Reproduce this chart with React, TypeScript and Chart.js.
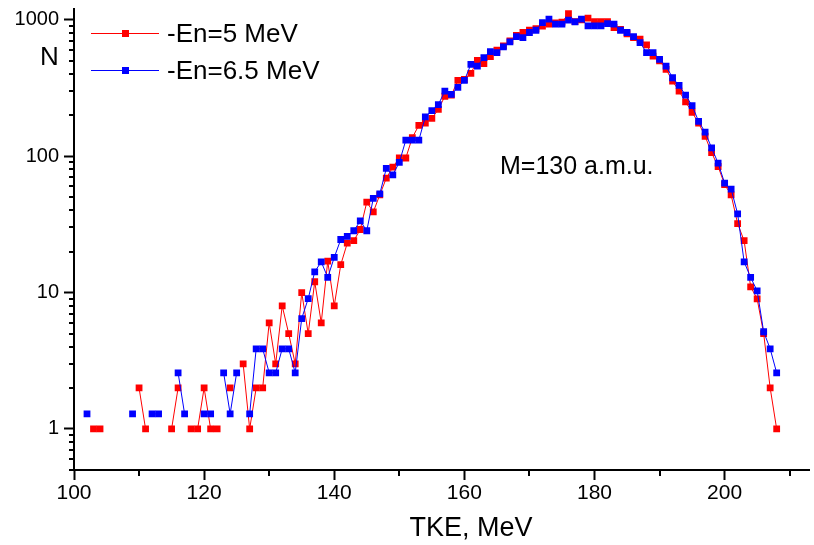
import React, { useEffect, useRef } from "react";
import { Chart, registerables } from "chart.js";

Chart.register(...registerables);

// TKE values (MeV)
const tke = [
  102, 103, 104, 105, 106, 107, 108, 109, 110, 111,
  112, 113, 114, 115, 116, 117, 118, 119, 120, 121,
  122, 123, 124, 125, 126, 127, 128, 129, 130, 131,
  132, 133, 134, 135, 136, 137, 138, 139, 140, 141,
  142, 143, 144, 145, 146, 147, 148, 149, 150, 151,
  152, 153, 154, 155, 156, 157, 158, 159, 160, 161,
  162, 163, 164, 165, 166, 167, 168, 169, 170, 171,
  172, 173, 174, 175, 176, 177, 178, 179, 180, 181,
  182, 183, 184, 185, 186, 187, 188, 189, 190, 191,
  192, 193, 194, 195, 196, 197, 198, 199, 200, 201,
  202, 203, 204, 205, 206, 207, 208,
];

// En = 5 MeV counts (null = no count)
const countsEn5 = [
  null, 1, 1, null, null, null, null, null, 2, 1,
  null, null, null, 1, 2, null, 1, 1, 2, 1,
  1, null, 2, null, 3, 1, 2, 2, 6, 3,
  8, 5, 3, 10, 5, 12, 6, 17, 8, 16,
  23, 24, 29, 46, 39, 52, 69, 83, 97, 97,
  137, 168, 175, 189, 220, 275, 280, 359, 365, 405,
  504, 477, 537, 600, 645, 700, 770, 807, 838, 860,
  900, 929, 950, 960, 1110, 970, 1000, 1028, 971, 971,
  970, 878, 850, 790, 740, 720, 654, 542, 500, 433,
  355, 300, 250, 210, 175, 140, 106, 84, 62, 52,
  32, 24, 11, 9, 5, 2, 1,
];

// En = 6.5 MeV counts (normalized, null = no count)
const countsEn65 = [
  1.29, null, null, null, null, null, null, 1.29, null, null,
  1.29, 1.29, null, null, 2.58, 1.29, null, null, 1.29, 1.29,
  null, 2.58, 1.29, 2.58, null, 1.29, 3.87, 3.87, 2.58, 2.58,
  3.87, 3.87, 2.58, 6.45, 9.03, 14.2, 16.8, 12.9, 18.1, 24.5,
  25.8, 28.4, 33.5, 28.4, 49, 52.9, 81.3, 73, 90, 131,
  131, 131, 194, 216, 239, 300, 284, 320, 359, 471,
  458, 528, 585, 575, 632, 688, 754, 741, 807, 838,
  955, 1010, 929, 929, 993, 966, 1010, 902, 902, 902,
  939, 929, 838, 807, 754, 681, 575, 575, 513, 458,
  376, 330, 280, 235, 180, 150, 115, 89, 63.5, 57.4,
  37.8, 16.8, 12.9, 10.3, 5.16, 3.87, 2.58,
];

const seriesLabels = ["-En=5 MeV", "-En=6.5 MeV"];
const seriesColors = ["#ff0000", "#0000ff"];

const xTickLabels = [100, 120, 140, 160, 180, 200];
const xMinorTicks = [110, 130, 150, 170, 190, 210];
const yTickLabels = [1, 10, 100, 1000];

const xTitle = "TKE, MeV";
const yTitle = "N";
const noteText = "M=130 a.m.u.";

const FONT = "'Liberation Sans', Arial, sans-serif";

const toPoints = (vals: (number | null)[]) =>
  tke.map((x, i) => ({ x, y: vals[i] }));

const decorPlugin = {
  id: "decor",
  afterDraw(chart: any) {
    const ctx = chart.ctx as CanvasRenderingContext2D;
    const xs = chart.scales.x;
    const ys = chart.scales.y;
    const area = chart.chartArea;
    ctx.save();
    ctx.strokeStyle = "#000000";
    ctx.lineWidth = 2;
    // minor x ticks
    xMinorTicks.forEach((v) => {
      const p = Math.round(xs.getPixelForValue(v));
      ctx.beginPath();
      ctx.moveTo(p, area.bottom);
      ctx.lineTo(p, area.bottom + 6);
      ctx.stroke();
    });
    // minor y ticks
    const minors: number[] = [];
    [0.1, 1, 10, 100, 1000].forEach((d) => {
      for (let k = 2; k <= 9; k++) {
        const v = k * d;
        if (v >= ys.min && v <= ys.max) minors.push(v);
      }
    });
    minors.forEach((v) => {
      const p = Math.round(ys.getPixelForValue(v));
      ctx.beginPath();
      ctx.moveTo(area.left, p);
      ctx.lineTo(area.left - 5, p);
      ctx.stroke();
    });

    // texts
    ctx.fillStyle = "#000";
    ctx.textAlign = "left";
    ctx.textBaseline = "alphabetic";
    ctx.font = `26px ${FONT}`;
    ctx.fillText(yTitle, 40, 65);
    ctx.font = `25px ${FONT}`;
    ctx.fillText(noteText, 500, 174);
    ctx.textAlign = "center";
    ctx.font = `27px ${FONT}`;
    ctx.fillText(xTitle, 471, 536);

    // legend
    const rows = [33, 70];
    seriesLabels.forEach((lab, i) => {
      const y = rows[i];
      ctx.strokeStyle = seriesColors[i];
      ctx.lineWidth = 1;
      ctx.beginPath();
      ctx.moveTo(91, y + 0.5);
      ctx.lineTo(159, y + 0.5);
      ctx.stroke();
      ctx.fillStyle = seriesColors[i];
      ctx.fillRect(122, y - 3, 7, 7);
      ctx.fillStyle = "#000";
      ctx.textAlign = "left";
      ctx.font = `26px ${FONT}`;
      ctx.fillText(lab, 167, y + 9);
    });
    ctx.restore();
  },
};

const gridOpts = {
  display: true,
  drawOnChartArea: false,
  drawTicks: true,
  tickLength: 10,
  tickWidth: 2,
  tickColor: "#000",
  color: "#000",
};

export default function App() {
  const ref = useRef<HTMLCanvasElement>(null);
  useEffect(() => {
    const sets = [countsEn5, countsEn65];
    const chart = new Chart(ref.current as HTMLCanvasElement, {
      type: "line",
      data: {
        datasets: sets.map((vals, i) => ({
          label: seriesLabels[i],
          data: toPoints(vals),
          borderColor: seriesColors[i],
          backgroundColor: seriesColors[i],
          pointBackgroundColor: seriesColors[i],
          pointBorderColor: seriesColors[i],
          borderWidth: 1,
          pointStyle: "rect",
          pointRadius: 4.8,
          pointBorderWidth: 0,
          spanGaps: false,
          tension: 0,
          order: i === 0 ? 1 : 0,
        })),
      } as any,
      options: {
        responsive: false,
        animation: false,
        devicePixelRatio: 1,
        layout: { padding: { top: 9, right: 1, left: 0, bottom: 0 } },
        plugins: { legend: { display: false }, tooltip: { enabled: false } },
        scales: {
          x: {
            type: "linear",
            min: 100,
            max: 213,
            afterFit: (s: any) => {
              s.height = 75;
              s.paddingLeft = 0;
              s.paddingRight = 0;
            },
            afterBuildTicks: (s: any) => {
              s.ticks = xTickLabels.map((v) => ({ value: v }));
            },
            ticks: {
              color: "#000",
              font: { size: 21, family: FONT },
              padding: 1,
              maxRotation: 0,
              autoSkip: false,
              callback: (v: any) => String(v),
            },
            grid: gridOpts,
            border: { display: true, color: "#000", width: 2 },
          },
          y: {
            type: "logarithmic",
            min: 0.5,
            max: 1200,
            afterFit: (s: any) => {
              s.width = 74;
              s.paddingTop = 0;
              s.paddingBottom = 0;
            },
            afterBuildTicks: (s: any) => {
              s.ticks = yTickLabels.map((v) => ({ value: v }));
            },
            ticks: {
              color: "#000",
              font: { size: 20, family: FONT },
              padding: 5,
              autoSkip: false,
              callback: (v: any) => String(v),
            },
            grid: gridOpts,
            border: { display: true, color: "#000", width: 2 },
          },
        },
      } as any,
      plugins: [decorPlugin],
    });
    return () => chart.destroy();
  }, []);
  return (
    <div
      style={{
        position: "absolute",
        left: 0,
        top: 0,
        width: 814,
        height: 545,
        background: "#fff",
      }}
    >
      <canvas ref={ref} width={814} height={545} style={{ display: "block" }} />
    </div>
  );
}
